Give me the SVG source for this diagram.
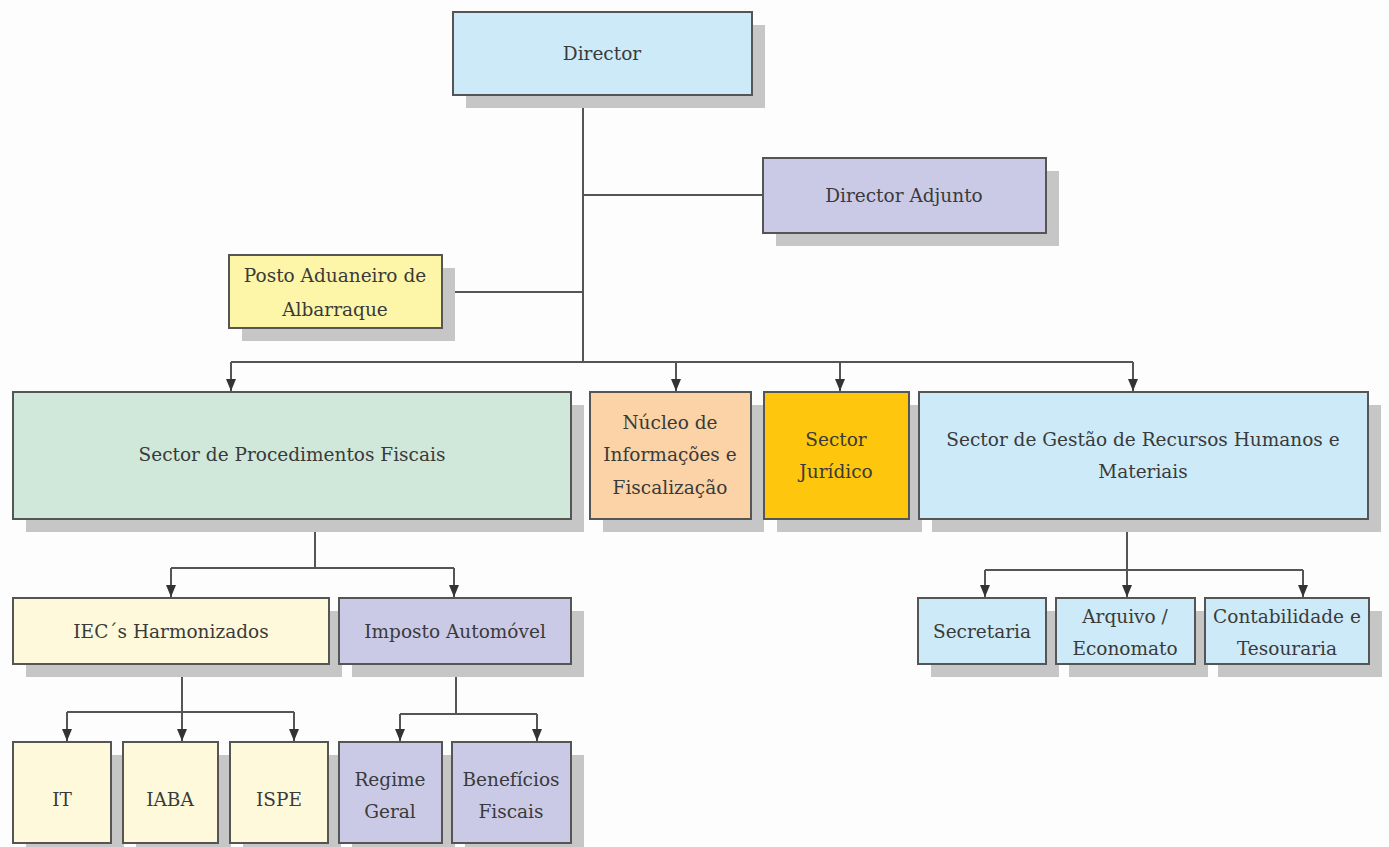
<svg xmlns="http://www.w3.org/2000/svg" width="1389" height="847" viewBox="0 0 1389 847">
<style>
.sh{fill:#c6c6c6}
.bx{stroke:#555;stroke-width:2}
.t{font-family:"DejaVu Serif","Liberation Serif",serif;font-size:18.5px;fill:#3a3a3a;text-anchor:middle}
.ln{fill:none;stroke:#555;stroke-width:2}
.blue{fill:#cdeaf8}.lav{fill:#cbcae6}.yel{fill:#fdf6a8}.grn{fill:#cfe8da}.pch{fill:#fbd3a6}.gold{fill:#fec60c}.lyel{fill:#fdf9da}
</style>
<defs>
<marker id="ar" viewBox="0 0 12 10" refX="12" refY="5" markerWidth="12" markerHeight="10" markerUnits="userSpaceOnUse" orient="auto">
<path d="M0,0 L12,5 L0,10 Z" fill="#333"/>
</marker>
</defs>
<rect width="1389" height="847" fill="#fdfdfd"/>
<g id="connectors">
<path class="ln" d="M583,95 V362"/>
<path class="ln" d="M583,195 H763"/>
<path class="ln" d="M442,292 H583"/>
<path class="ln" d="M231,362 H1133"/>
<path class="ln" d="M231,362 V391" marker-end="url(#ar)"/>
<path class="ln" d="M676,362 V391" marker-end="url(#ar)"/>
<path class="ln" d="M840,362 V391" marker-end="url(#ar)"/>
<path class="ln" d="M1133,362 V391" marker-end="url(#ar)"/>
<path class="ln" d="M315,519 V568 M171,568 H454"/>
<path class="ln" d="M171,568 V597" marker-end="url(#ar)"/>
<path class="ln" d="M454,568 V597" marker-end="url(#ar)"/>
<path class="ln" d="M182,664 V712 M67,712 H294"/>
<path class="ln" d="M67,712 V741" marker-end="url(#ar)"/>
<path class="ln" d="M182,712 V741" marker-end="url(#ar)"/>
<path class="ln" d="M294,712 V741" marker-end="url(#ar)"/>
<path class="ln" d="M456,664 V714 M400,714 H537"/>
<path class="ln" d="M400,714 V741" marker-end="url(#ar)"/>
<path class="ln" d="M537,714 V741" marker-end="url(#ar)"/>
<path class="ln" d="M1127,519 V570 M985,570 H1303"/>
<path class="ln" d="M985,570 V597" marker-end="url(#ar)"/>
<path class="ln" d="M1127,570 V597" marker-end="url(#ar)"/>
<path class="ln" d="M1303,570 V597" marker-end="url(#ar)"/>
</g>
<g id="director"><rect class="sh" x="466" y="25" width="299" height="83"/><rect class="bx blue" x="453" y="12" width="299" height="83"/><text class="t" x="602" y="60">Director</text></g>
<g id="director-adjunto"><rect class="sh" x="776" y="171" width="283" height="75"/><rect class="bx lav" x="763" y="158" width="283" height="75"/><text class="t" x="904" y="202">Director Adjunto</text></g>
<g id="posto"><rect class="sh" x="242" y="268" width="213" height="73"/><rect class="bx yel" x="229" y="255" width="213" height="73"/><text class="t" x="335" y="282">Posto Aduaneiro de</text><text class="t" x="335" y="316">Albarraque</text></g>
<g id="spf"><rect class="sh" x="26" y="405" width="558" height="127"/><rect class="bx grn" x="13" y="392" width="558" height="127"/><text class="t" x="292" y="461">Sector de Procedimentos Fiscais</text></g>
<g id="nucleo"><rect class="sh" x="603" y="405" width="161" height="127"/><rect class="bx pch" x="590" y="392" width="161" height="127"/><text class="t" x="670" y="429">Núcleo de</text><text class="t" x="670" y="461">Informações e</text><text class="t" x="670" y="494">Fiscalização</text></g>
<g id="juridico"><rect class="sh" x="777" y="405" width="145" height="127"/><rect class="bx gold" x="764" y="392" width="145" height="127"/><text class="t" x="836" y="446">Sector</text><text class="t" x="836" y="478">Jurídico</text></g>
<g id="sgrhm"><rect class="sh" x="932" y="405" width="449" height="127"/><rect class="bx blue" x="919" y="392" width="449" height="127"/><text class="t" x="1143" y="446">Sector de Gestão de Recursos Humanos e</text><text class="t" x="1143" y="478">Materiais</text></g>
<g id="iec"><rect class="sh" x="26" y="611" width="316" height="66"/><rect class="bx lyel" x="13" y="598" width="316" height="66"/><text class="t" x="171" y="638">IEC´s Harmonizados</text></g>
<g id="imposto"><rect class="sh" x="352" y="611" width="232" height="66"/><rect class="bx lav" x="339" y="598" width="232" height="66"/><text class="t" x="455" y="638">Imposto Automóvel</text></g>
<g id="it"><rect class="sh" x="26" y="755" width="98" height="101"/><rect class="bx lyel" x="13" y="742" width="98" height="101"/><text class="t" x="62" y="806">IT</text></g>
<g id="iaba"><rect class="sh" x="136" y="755" width="95" height="101"/><rect class="bx lyel" x="123" y="742" width="95" height="101"/><text class="t" x="170" y="806">IABA</text></g>
<g id="ispe"><rect class="sh" x="243" y="755" width="98" height="101"/><rect class="bx lyel" x="230" y="742" width="98" height="101"/><text class="t" x="279" y="806">ISPE</text></g>
<g id="regime"><rect class="sh" x="352" y="755" width="103" height="101"/><rect class="bx lav" x="339" y="742" width="103" height="101"/><text class="t" x="390" y="786">Regime</text><text class="t" x="390" y="818">Geral</text></g>
<g id="beneficios"><rect class="sh" x="465" y="755" width="119" height="101"/><rect class="bx lav" x="452" y="742" width="119" height="101"/><text class="t" x="511" y="786">Benefícios</text><text class="t" x="511" y="818">Fiscais</text></g>
<g id="secretaria"><rect class="sh" x="931" y="611" width="128" height="66"/><rect class="bx blue" x="918" y="598" width="128" height="66"/><text class="t" x="982" y="638">Secretaria</text></g>
<g id="arquivo"><rect class="sh" x="1069" y="611" width="139" height="66"/><rect class="bx blue" x="1056" y="598" width="139" height="66"/><text class="t" x="1125" y="623">Arquivo /</text><text class="t" x="1125" y="655">Economato</text></g>
<g id="contabilidade"><rect class="sh" x="1218" y="611" width="164" height="66"/><rect class="bx blue" x="1205" y="598" width="164" height="66"/><text class="t" x="1287" y="623">Contabilidade e</text><text class="t" x="1287" y="655">Tesouraria</text></g>
</svg>
